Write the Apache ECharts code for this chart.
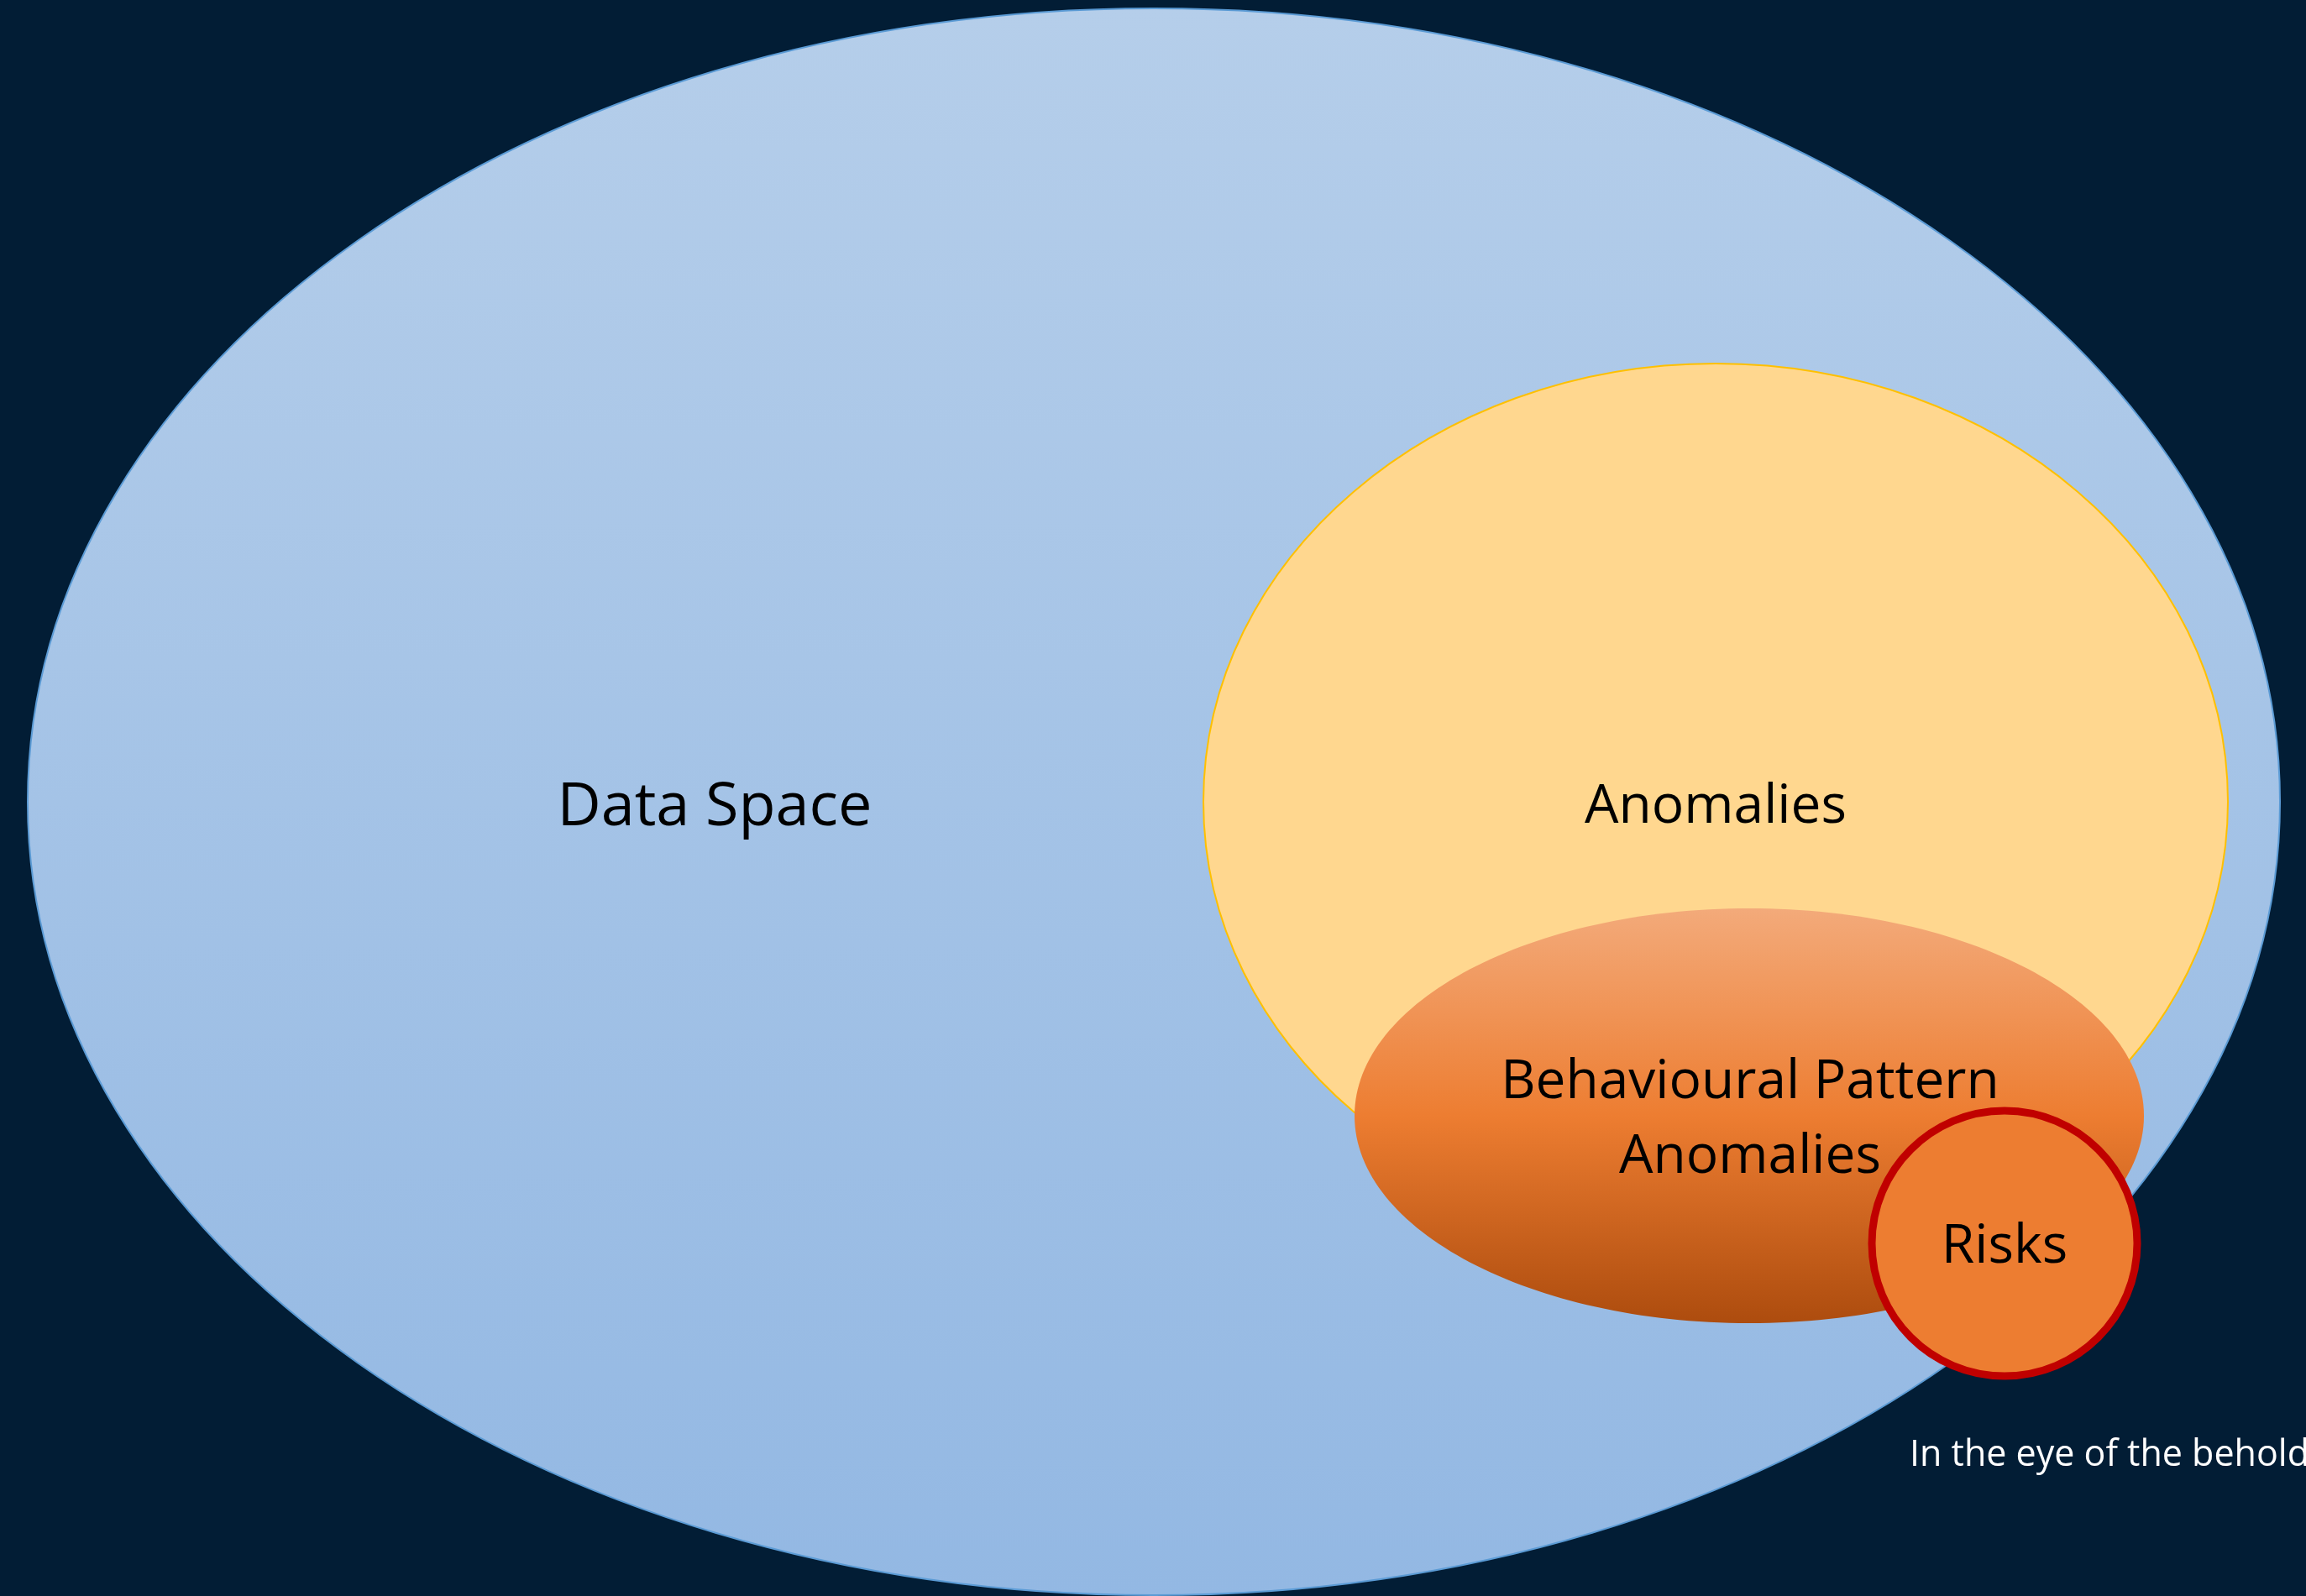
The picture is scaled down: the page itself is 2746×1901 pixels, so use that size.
<!DOCTYPE html>
<html>
<head>
<meta charset="utf-8">
<title>Data Space</title>
<script src="https://cdn.jsdelivr.net/npm/echarts@6/dist/echarts.min.js"></script>
<style>
  html, body { margin: 0; padding: 0; background: #021d35; }
  #chart { width: 2746px; height: 1901px; }
</style>
</head>
<body>
<div id="chart"></div>
<script>
// diagram units = picture pixels, y grows downward
const shapeNames = ['Data Space', 'Anomalies', 'Behavioural Pattern\nAnomalies', 'Risks']
const centerX = [1374, 2043, 2083, 2387]
const centerY = [955, 955, 1329, 1481]
const radiusX = [1341, 610, 470, 158]
const radiusY = [945, 522, 247, 158]
// where each name sits, in the same units
const labelX = [851, 2043, 2084, 2387]
const labelY = [962, 962, 1334, 1486]
const footnote = 'In the eye of the beholder'

const fills = [
  new echarts.graphic.LinearGradient(0, 0, 0, 1, [
    { offset: 0, color: '#b5ceea' },
    { offset: 1, color: '#93b8e3' }
  ]),
  '#ffd78f',
  new echarts.graphic.LinearGradient(0, 0, 0, 1, [
    { offset: 0, color: '#f3aa7a' },
    { offset: 0.5, color: '#ed7d31' },
    { offset: 1, color: '#ad4c0e' }
  ]),
  '#ed7d31'
]
const strokes = ['#5b9bd5', '#ffc000', null, '#c00000']
const strokeWidths = [2, 2, 0, 9]

const chart = echarts.init(document.getElementById('chart'))

function renderShape(params, api) {
  const i = api.value(4)
  const c = api.coord([api.value(0), api.value(1)])
  const r = api.size([api.value(2), api.value(3)])
  const t = api.coord([labelX[i], labelY[i]])
  return {
    type: 'group',
    children: [
      {
        type: 'ellipse',
        shape: { cx: c[0], cy: c[1], rx: r[0], ry: r[1] },
        style: {
          fill: fills[i],
          stroke: strokes[i],
          lineWidth: strokeWidths[i]
        }
      },
      {
        type: 'text',
        style: {
          text: shapeNames[i],
          x: t[0],
          y: t[1],
          fill: '#000',
          fontFamily: 'Open Sans',
          fontSize: i === 0 ? 72 : 64,
          lineHeight: 89,
          align: 'center',
          verticalAlign: 'middle'
        }
      }
    ]
  }
}

chart.setOption({
  backgroundColor: '#021d35',
  animation: false,
  grid: { left: 0, right: 0, top: 0, bottom: 0 },
  xAxis: { type: 'value', min: 0, max: 2746, show: false },
  yAxis: { type: 'value', min: 0, max: 1901, inverse: true, show: false },
  graphic: [
    {
      type: 'text',
      x: 2274,
      y: 1712,
      z: 10,
      style: {
        text: footnote,
        fill: '#ffffff',
        font: '43px "Open Sans"'
      }
    }
  ],
  series: [
    {
      type: 'custom',
      clip: false,
      renderItem: renderShape,
      data: shapeNames.map((name, i) => [centerX[i], centerY[i], radiusX[i], radiusY[i], i])
    }
  ]
})
</script>
</body>
</html>
